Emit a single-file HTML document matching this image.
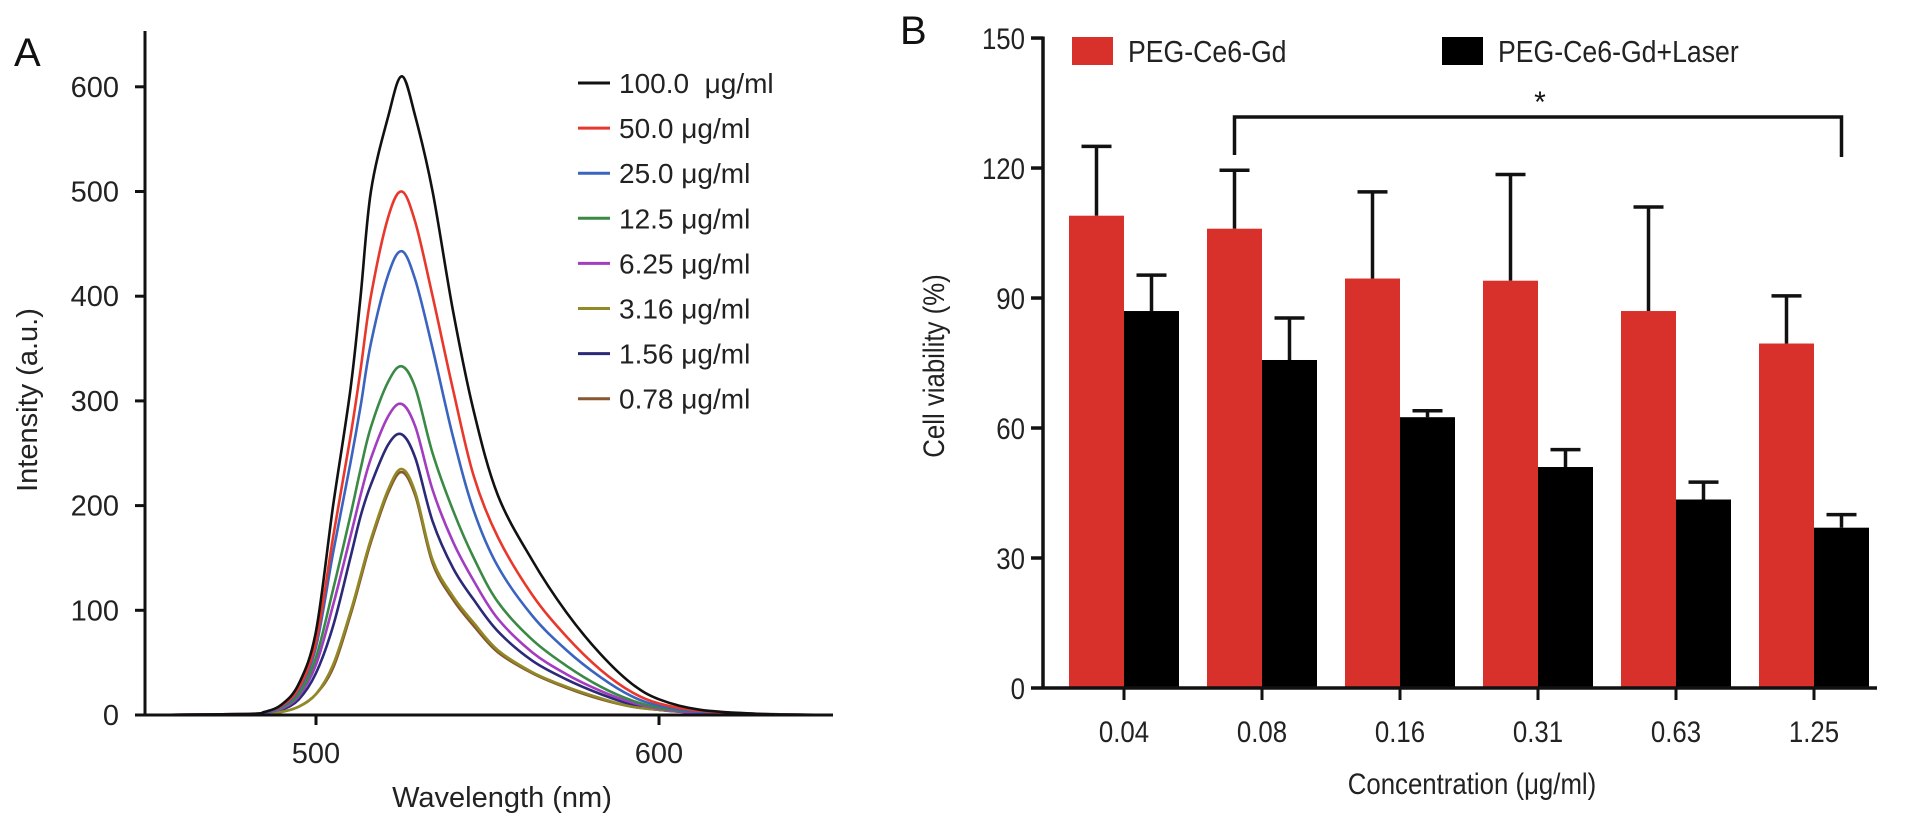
<!DOCTYPE html>
<html><head><meta charset="utf-8"><style>
html,body{margin:0;padding:0;background:#fff;}
svg{display:block;font-family:"Liberation Sans",Arial,sans-serif;}
</style></head><body>
<svg id="fig" width="1913" height="828" viewBox="0 0 1913 828" xmlns="http://www.w3.org/2000/svg">
<g id="panelA"></g>
<g id="panelB"></g>
</svg>
<script>
// ---------- Panel A data ----------
const wavelengths = [450,480,485,490,495,500,505,510,513,516,521,525,529,534,540,546,553,563,573,583,592,600,612,630,650];
const s100  = [0,1,3,10,30,80,200,310,400,500,571,610,571,500,385,290,210,148,98,58,30,15,5,1,0];
const s50   = [0,1,3,9,26,70,170,265,330,400,475,500,470,400,310,228,170,115,75,43,22,11,4,1,0];
const s25   = [0,1,2,8,24,65,155,240,295,355,420,443,415,350,265,195,142,95,62,36,18,9,3,1,0];
const s125  = [0,1,2,7,20,55,120,190,235,275,318,333,312,250,195,150,108,72,47,27,14,7,3,1,0];
const s625  = [0,1,2,6,18,48,105,170,210,245,285,297,275,215,165,128,92,60,39,23,12,6,2,0,0];
const s316  = [0,0,1,3,8,20,48,98,133,168,215,235,212,148,113,88,62,41,27,16,8,5,2,0,0];
const s156  = [0,0,2,5,15,40,85,150,190,220,258,268,245,185,140,110,80,52,34,20,10,5,2,0,0];
const s078  = [0,0,1,3,8,20,45,95,130,165,212,232,209,145,110,85,60,40,26,15,8,5,2,0,0];
const seriesLabels = ["100.0\u00a0 \u03bcg/ml","50.0 \u03bcg/ml","25.0 \u03bcg/ml","12.5 \u03bcg/ml","6.25 \u03bcg/ml","3.16 \u03bcg/ml","1.56 \u03bcg/ml","0.78 \u03bcg/ml"];
const seriesValues = [s100,s50,s25,s125,s625,s316,s156,s078];
const seriesColors = ["#111111","#e8382c","#3a64c0","#3a8a45","#a23cc0","#8f8a25","#2c2a78","#8a5630"];
const aYTicks = [0,100,200,300,400,500,600];
const aXTicks = [500,600];

// ---------- Panel B data ----------
const concentrations = ["0.04","0.08","0.16","0.31","0.63","1.25"];
const viabilityNoLaser = [109,106,94.5,94,87,79.5];
const errNoLaser = [16,13.5,20,24.5,24,11];
const viabilityLaser = [87,75.7,62.5,51,43.5,37];
const errLaser = [8.3,9.7,1.5,4,4,3];
const bYTicks = [0,30,60,90,120,150];

const NS="http://www.w3.org/2000/svg";
function mk(parent,tag,attrs,text){const e=document.createElementNS(NS,tag);for(const k in attrs)e.setAttribute(k,attrs[k]);if(text!==undefined)e.textContent=text;parent.appendChild(e);return e;}

// ---------- Panel A ----------
(function(){
const g=document.getElementById('panelA');
const x0=145,x1=833,y0=715,yTop=31;
const xS=v=>316+(v-500)*3.43;
const yS=v=>y0-v*1.047;
let t=mk(g,'text',{x:14,y:66,'font-size':40,fill:'#111'},'A');


seriesValues.slice().reverse().forEach((vals,ri)=>{
  const i=seriesValues.length-1-ri;
  const pts=wavelengths.map((w,j)=>[xS(w),yS(vals[j])]);
  let d='M'+pts[0][0]+','+pts[0][1];
  for(let j=0;j<pts.length-1;j++){
    const p0=pts[Math.max(0,j-1)],p1=pts[j],p2=pts[j+1],p3=pts[Math.min(pts.length-1,j+2)];
    const c1=[p1[0]+(p2[0]-p0[0])/6,p1[1]+(p2[1]-p0[1])/6];
    const c2=[p2[0]-(p3[0]-p1[0])/6,p2[1]-(p3[1]-p1[1])/6];
    d+=' C'+c1[0].toFixed(1)+','+c1[1].toFixed(1)+' '+c2[0].toFixed(1)+','+c2[1].toFixed(1)+' '+p2[0].toFixed(1)+','+p2[1].toFixed(1);
  }
  const p=mk(g,'path',{d:d,fill:'none',stroke:seriesColors[i],'stroke-width':2.6,'stroke-linejoin':'round'});
  
  
});
let a=mk(g,'line',{x1:x0,y1:yTop,x2:x0,y2:y0+1.5,stroke:'#111','stroke-width':3});


a=mk(g,'line',{x1:x0-1.5,y1:y0,x2:x1,y2:y0,stroke:'#111','stroke-width':3});


aYTicks.forEach(v=>{
  const tk=mk(g,'line',{x1:x0-10,y1:yS(v),x2:x0,y2:yS(v),stroke:'#111','stroke-width':3});
  
  
  const l=mk(g,'text',{x:x0-26,y:yS(v)+10,'font-size':29,'text-anchor':'end',fill:'#222'},String(v));
  
  
});
aXTicks.forEach(v=>{
  const tk=mk(g,'line',{x1:xS(v),y1:y0,x2:xS(v),y2:y0+10,stroke:'#111','stroke-width':3});
  
  
  const l=mk(g,'text',{x:xS(v),y:763,'font-size':29,'text-anchor':'middle',fill:'#222'},String(v));
  
  
});
t=mk(g,'text',{x:502,y:807,'font-size':29,'text-anchor':'middle',fill:'#222'},'Wavelength (nm)');


t=mk(g,'text',{x:0,y:0,'font-size':29,'text-anchor':'middle',fill:'#222',transform:'translate(37,400) rotate(-90)'},'Intensity (a.u.)');


seriesLabels.forEach((lab,i)=>{
  const y=83+i*45.1;
  const le=mk(g,'g',{});
  
  
  mk(le,'line',{x1:578,y1:y,x2:610,y2:y,stroke:seriesColors[i],'stroke-width':3});
  mk(le,'text',{x:619,y:y+10,'font-size':28,fill:'#222'},lab);
});
})();

// ---------- Panel B ----------
(function(){
const g=document.getElementById('panelB');
const x0=1043,xEnd=1877,y0=688;
const yS=v=>y0-v*4.333;
const cx=i=>1124+i*138;
const bw=55;
let t=mk(g,'text',{x:900,y:44,'font-size':40,fill:'#111'},'B');


concentrations.forEach((c,i)=>{
  const rv=viabilityNoLaser[i],bv=viabilityLaser[i];
  let e=mk(g,'path',{d:`M${cx(i)-bw/2},${yS(rv)} V${yS(rv+errNoLaser[i])} M${cx(i)-bw/2-15},${yS(rv+errNoLaser[i])} H${cx(i)-bw/2+15}`,stroke:'#111','stroke-width':3.5,fill:'none'});
  
  
  e=mk(g,'path',{d:`M${cx(i)+bw/2},${yS(bv)} V${yS(bv+errLaser[i])} M${cx(i)+bw/2-15},${yS(bv+errLaser[i])} H${cx(i)+bw/2+15}`,stroke:'#111','stroke-width':3.5,fill:'none'});
  
  
  let r=mk(g,'rect',{x:cx(i)-bw,y:yS(rv),width:bw,height:y0-yS(rv),fill:'#d8302a'});
  
  
  r=mk(g,'rect',{x:cx(i),y:yS(bv),width:bw,height:y0-yS(bv),fill:'#000'});
  
  
  const tk=mk(g,'line',{x1:cx(i),y1:y0,x2:cx(i),y2:y0+12,stroke:'#111','stroke-width':3});
  
  
  const l=mk(g,'text',{x:0,y:0,'font-size':30,'text-anchor':'middle',fill:'#222',transform:`translate(${cx(i)},742) scale(0.86,1)`},c);
  
  
});
let a=mk(g,'line',{x1:x0,y1:yS(150)-1.5,x2:x0,y2:y0+1.5,stroke:'#111','stroke-width':3.5});


a=mk(g,'line',{x1:x0,y1:y0,x2:xEnd,y2:y0,stroke:'#111','stroke-width':3.5});


bYTicks.forEach(v=>{
  const tk=mk(g,'line',{x1:x0-12,y1:yS(v),x2:x0,y2:yS(v),stroke:'#111','stroke-width':3.5});
  
  
  const l=mk(g,'text',{x:0,y:0,'font-size':30,'text-anchor':'end',fill:'#222',transform:`translate(${x0-18},${yS(v)+11}) scale(0.86,1)`},String(v));
  
  
});
t=mk(g,'text',{x:0,y:0,'font-size':30,'text-anchor':'middle',fill:'#222',transform:'translate(1472,794) scale(0.86,1)'},'Concentration (\u03bcg/ml)');


t=mk(g,'text',{x:0,y:0,'font-size':30,'text-anchor':'middle',fill:'#222',transform:'translate(944,366) rotate(-90) scale(0.86,1)'},'Cell viability (%)');


const br=mk(g,'path',{d:`M${cx(1)-bw/2},155 V117 H${cx(5)+bw/2} V157`,stroke:'#111','stroke-width':3.5,fill:'none'});


t=mk(g,'text',{x:1540,y:112,'font-size':30,'text-anchor':'middle',fill:'#111'},'*');


let le=mk(g,'g',{});


mk(le,'rect',{x:1072,y:37,width:41,height:28,fill:'#d8302a'});
mk(le,'text',{x:0,y:0,'font-size':31,fill:'#222',transform:'translate(1128,62) scale(0.86,1)'},'PEG-Ce6-Gd');
le=mk(g,'g',{});


mk(le,'rect',{x:1442,y:37,width:41,height:28,fill:'#000'});
mk(le,'text',{x:0,y:0,'font-size':31,fill:'#222',transform:'translate(1498,62) scale(0.86,1)'},'PEG-Ce6-Gd+Laser');
})();
</script>
</body></html>
